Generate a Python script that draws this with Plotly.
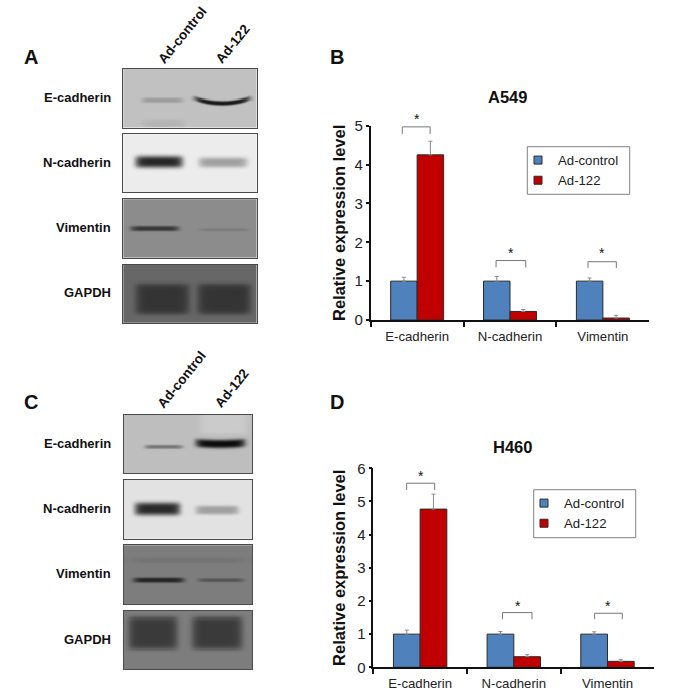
import numpy as np
import plotly.graph_objects as go

W, H = 683, 694
CATEGORIES = ["E-cadherin", "N-cadherin", "Vimentin"]
SERIES = ["Ad-control", "Ad-122"]
A549_CONTROL = [1.0, 1.0, 1.0]
A549_CONTROL_ERR = [0.10, 0.12, 0.08]
A549_AD122 = [4.25, 0.22, 0.05]
A549_AD122_ERR = [0.35, 0.05, 0.07]
H460_CONTROL = [1.0, 1.0, 1.0]
H460_CONTROL_ERR = [0.12, 0.08, 0.07]
H460_AD122 = [4.77, 0.32, 0.18]
H460_AD122_ERR = [0.45, 0.06, 0.05]
BLOT_LABELS = ["E-cadherin", "N-cadherin", "Vimentin", "GAPDH"]

# Blot appearance: background grey, then bands (x0 %, x1 %, y %, height %, grey, smile %)
A_ECAD = (193, [(14, 45, 53, 8, 155, 0), (14, 46, 93, 14, 180, 0), (54, 95, 50, 8, 25, 8)])
A_NCAD = (236, [(9, 45, 48, 21, 38, 0), (57, 93, 49, 18, 160, 0)])
A_VIM = (140, [(5.5, 42, 51, 9, 55, 0), (57, 94, 53, 6, 125, 0)])
A_GAPDH = (103, [(9, 50, 59, 54, 52, 0), (56, 96, 59, 54, 52, 0)])
C_ECAD = (190, [(59, 97, 15, 35, 203, 0), (16, 46, 55, 7, 120, 0), (56, 95, 48, 15, 12, 2)])
C_NCAD = (226, [(8, 44, 49, 21, 42, 0), (56, 90, 51, 14, 160, 0)])
C_VIM = (125, [(5, 95, 26, 10, 115, 0), (7, 47, 59, 9, 35, 0), (58, 94, 59, 7, 85, 0)])
C_GAPDH = (125, [(3, 42, 38, 56, 58, 0), (53, 93, 38, 56, 58, 0)])


def blot_image(spec, nx, ny):
    bg, bands = spec
    xs = np.linspace(0, 100, nx)
    ys = np.linspace(0, 100, ny)
    X, Y = np.meshgrid(xs, ys)
    Z = np.full_like(X, float(bg))
    for x0, x1, yc, h, grey, smile in bands:
        xc, wx, wy = (x0 + x1) / 2, (x1 - x0) / 2, h / 2
        u = (X - xc) / wx
        yy = yc + smile * (1 - np.clip(u, -1, 1) ** 2)
        py = 8 if h > 30 else 3
        a = np.exp(-np.abs(u) ** 8) * np.exp(-np.abs((Y - yy) / wy) ** py)
        Z = Z * (1 - a) + grey * a
    return Z


fig = go.Figure()
layout = {}
FONT = "Liberation Sans"


def px_dom_x(a, b):
    return [a / W, b / W]


def px_dom_y(top, bottom):
    return [1 - bottom / H, 1 - top / H]


axis_n = [1]


def next_axes():
    n = axis_n[0]
    axis_n[0] += 1
    return ("x" if n == 1 else f"x{n}", "y" if n == 1 else f"y{n}",
            "xaxis" if n == 1 else f"xaxis{n}", "yaxis" if n == 1 else f"yaxis{n}")


GREY_SCALE = [[0, "#000000"], [1, "#ffffff"]]
blot_panels = [
    ([A_ECAD, A_NCAD, A_VIM, A_GAPDH], 123.3, 256.7,
     [(69, 127.5), (134.3, 192.3), (199.3, 257.7), (264.7, 322.7)]),
    ([C_ECAD, C_NCAD, C_VIM, C_GAPDH], 124, 252,
     [(414.7, 473.3), (480, 538.7), (545.3, 604), (610.7, 669.3)]),
]
annotations = []
shapes = []


def text(x, y, s, size, bold=False, angle=0, xanchor="center", color="#111111"):
    annotations.append(dict(
        x=x / W, y=1 - y / H, xref="paper", yref="paper", text=f"<b>{s}</b>" if bold else s,
        showarrow=False, textangle=angle, xanchor=xanchor, yanchor="middle",
        font=dict(family=FONT, size=size, color=color)))


for specs, left, right, rows in blot_panels:
    for spec, (top, bottom), lab in zip(specs, rows, BLOT_LABELS):
        xn, yn, xk, yk = next_axes()
        nx, ny = int(right - left), int(bottom - top)
        fig.add_trace(go.Heatmap(z=blot_image(spec, nx, ny), x=np.linspace(0, 100, nx), y=np.linspace(0, 100, ny),
                                 xaxis=xn, yaxis=yn, zmin=0, zmax=255, colorscale=GREY_SCALE,
                                 showscale=False, hoverinfo="skip", showlegend=False))
        line = dict(showline=True, mirror=True, linecolor="#4a4a4a", linewidth=1.3, automargin=False,
                    showticklabels=False, ticks="", showgrid=False, zeroline=False)
        layout[xk] = dict(domain=px_dom_x(left, right), range=[0, 100], anchor=yn, **line)
        layout[yk] = dict(domain=px_dom_y(top, bottom), range=[100, 0], anchor=xn, **line)
        text(113, (top + bottom) / 2 - 1, lab, 13, bold=True, xanchor="right")

text(182, 35, "Ad-control", 13.5, bold=True, angle=-51)
text(232, 44, "Ad-122", 13.5, bold=True, angle=-51)
text(182, 380, "Ad-control", 13.5, bold=True, angle=-51)
text(232, 389, "Ad-122", 13.5, bold=True, angle=-51)
text(31, 57, "A", 20, bold=True)
text(31, 402, "C", 20, bold=True)
text(337, 57, "B", 20, bold=True)
text(337, 402, "D", 20, bold=True)

chart_panels = [
    dict(l=370.7, r=649.3, t=125.7, b=320, ymax=5, title="A549", title_y=97, title_x=507, standoff=5,
         vals=(A549_CONTROL, A549_CONTROL_ERR, A549_AD122, A549_AD122_ERR),
         brackets=[(-0.16, 0.14, 4.97, 4.79), (0.85, 1.17, 1.53, 1.355), (1.84, 2.145, 1.50, 1.34)],
         stars=[(-0.005, 5.16), (1.01, 1.72), (1.995, 1.72)],
         box=(527.3, 629.7, 146.7, 194.3), legend="legend", lx=518, ly=145),
    dict(l=373.3, r=654.3, t=468.3, b=667.3, ymax=6, title="H460", title_y=447, title_x=512, standoff=7,
         vals=(H460_CONTROL, H460_CONTROL_ERR, H460_AD122, H460_AD122_ERR),
         brackets=[(-0.144, 0.155, 5.55, 5.35), (0.88, 1.194, 1.65, 1.45), (1.863, 2.158, 1.63, 1.45)],
         stars=[(0.005, 5.76), (1.04, 1.86), (2.01, 1.86)],
         box=(533.7, 635.7, 489.7, 537.7), legend="legend2", lx=524, ly=488),
]

for idx, p in enumerate(chart_panels):
    xn, yn, xk, yk = next_axes()
    ctrl, ctrl_err, ad, ad_err = p["vals"]
    for name, vals, errs, color in ((SERIES[0], ctrl, ctrl_err, "#4F81BD"), (SERIES[1], ad, ad_err, "#C00000")):
        fig.add_trace(go.Bar(
            x=CATEGORIES, y=vals, name=name, xaxis=xn, yaxis=yn, showlegend=False,
            marker=dict(color=color, line=dict(color="#2a2a2a", width=1)),
            error_y=dict(type="data", array=errs, symmetric=False, arrayminus=[0, 0, 0],
                         color="#8a8a8a", thickness=1, width=2)))
        fig.add_trace(go.Scatter(
            x=[None], y=[None], name=name, xaxis=xn, yaxis=yn, legend=p["legend"], mode="markers",
            marker=dict(symbol="square", size=8, color=color, line=dict(color="#2a2a2a", width=1))))
    layout[xk] = dict(domain=px_dom_x(p["l"], p["r"]), anchor=yn, type="category", range=[-0.5, 2.5],
                      categoryorder="array", categoryarray=CATEGORIES, automargin=False,
                      tickson="boundaries", ticks="outside", ticklen=5, tickwidth=1.5, tickcolor="#111",
                      ticklabelstandoff=3,
                      showline=True, linecolor="#111", linewidth=1.5, showgrid=False,
                      tickfont=dict(family=FONT, size=13.2, color="#222"))
    layout[yk] = dict(domain=px_dom_y(p["t"], p["b"]), anchor=xn, range=[0, p["ymax"]], dtick=1, automargin=False,
                      ticks="outside", ticklen=3, tickwidth=1.5, tickcolor="#111",
                      showline=True, linecolor="#111", linewidth=1.5, showgrid=False, zeroline=False,
                      tickfont=dict(family=FONT, size=15, color="#222"),
                      title=dict(text="<b>Relative expression level</b>", standoff=p["standoff"],
                                 font=dict(family=FONT, size=16.5, color="#111")))
    for x0, x1, top, bot in p["brackets"]:
        for a, b, c, d in ((x0, x0, bot, top), (x0, x1, top, top), (x1, x1, top, bot)):
            shapes.append(dict(type="line", xref=xn, yref=yn, x0=a, x1=b, y0=c, y1=d,
                               line=dict(color="#777777", width=1)))
    for sx, sy in p["stars"]:
        px = p["l"] + (sx + 0.5) / 3 * (p["r"] - p["l"])
        py = p["b"] - sy / p["ymax"] * (p["b"] - p["t"])
        text(px, py, "*", 14, color="#111111")
    text(p["title_x"], p["title_y"], p["title"], 16.5, bold=True)
    bl, br, bt, bb = p["box"]
    shapes.append(dict(type="rect", xref="paper", yref="paper", x0=bl / W, x1=br / W, y0=1 - bb / H, y1=1 - bt / H,
                       line=dict(color="#808080", width=1), fillcolor="rgba(0,0,0,0)"))
    layout[p["legend"]] = dict(x=p["lx"] / W, y=1 - p["ly"] / H, xanchor="left", yanchor="top",
                               bgcolor="rgba(0,0,0,0)", font=dict(family=FONT, size=13.2, color="#222"),
                               traceorder="normal", itemclick=False, itemdoubleclick=False)

fig.update_layout(width=W, height=H, margin=dict(l=0, r=0, t=0, b=0), paper_bgcolor="white", plot_bgcolor="white",
                  barmode="group", bargap=0.43, bargroupgap=0, showlegend=True,
                  annotations=annotations, shapes=shapes, **layout)
fig.write_html("out.html", config={"displayModeBar": False},
               post_script="document.body.style.margin='0';")
